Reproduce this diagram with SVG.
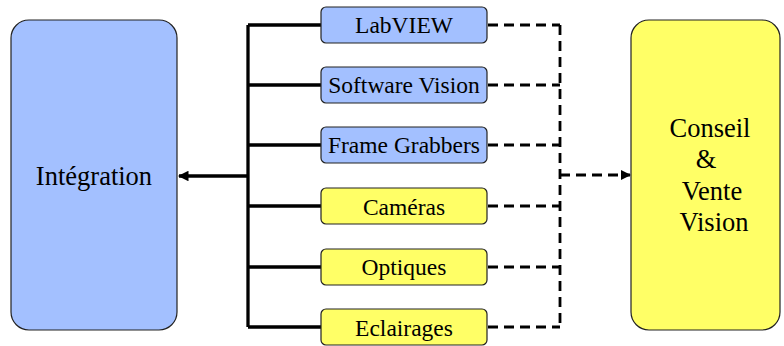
<svg xmlns="http://www.w3.org/2000/svg" width="784" height="346" viewBox="0 0 784 346">
<defs>
<style>
.blue{fill:#A3C0FF;stroke:#222;stroke-width:1.2}
.yellow{fill:#FFFF66;stroke:#222;stroke-width:1.2}
text{font-family:"Liberation Serif","Times New Roman",serif;fill:#000;text-anchor:middle}
.solid{fill:none;stroke:#000;stroke-width:3.3}
.dash{fill:none;stroke:#000;stroke-width:2.8;stroke-dasharray:10 6}
</style>
<marker id="ah" viewBox="0 0 10 10" refX="9" refY="5" markerWidth="3.6" markerHeight="3.2" orient="auto" markerUnits="strokeWidth">
<path d="M0,0 L10,5 L0,10 Z" fill="#000"/>
</marker>
<marker id="ah2" viewBox="0 0 10 10" refX="9" refY="5" markerWidth="3.6" markerHeight="3.6" orient="auto" markerUnits="strokeWidth">
<path d="M0,0 L10,5 L0,10 Z" fill="#000"/>
</marker>
</defs>
<rect width="784" height="346" fill="#fff"/>
<g id="connectors">
<path class="solid" d="M248,25 V327 M248,25 H321 M248,85 H321 M248,145 H321 M248,206 H321 M248,267 H321 M248,327 H321"/>
<path class="solid" d="M248,176 H179" marker-end="url(#ah)"/>
<path class="dash" d="M488,25 H560 M488,85 H560 M488,145 H560 M488,206 H560 M488,267 H560 M488,327 H560 M560,25 V327"/>
<path class="dash" d="M560,175 H630" marker-end="url(#ah2)"/>
</g>
<g id="integration">
<rect class="blue" x="11" y="20" width="166" height="310" rx="18"/>
<text x="94" y="185" font-size="26.5">Intégration</text>
</g>
<g id="conseil">
<rect class="yellow" x="631" y="20" width="149" height="310" rx="18"/>
<text x="710" y="137" font-size="26.5">Conseil</text>
<text x="706" y="168" font-size="26.5">&amp;</text>
<text x="712" y="200" font-size="26.5">Vente</text>
<text x="714" y="231" font-size="26.5">Vision</text>
</g>
<g id="labview">
<rect class="blue" x="321" y="7" width="166" height="36" rx="5"/>
<text x="404" y="33" font-size="23.5">LabVIEW</text>
</g>
<g id="software">
<rect class="blue" x="321" y="67" width="166" height="36" rx="5"/>
<text x="404" y="93" font-size="23.5">Software Vision</text>
</g>
<g id="frame">
<rect class="blue" x="321" y="127" width="166" height="36" rx="5"/>
<text x="404" y="153" font-size="23.5">Frame Grabbers</text>
</g>
<g id="cameras">
<rect class="yellow" x="321" y="188" width="166" height="36" rx="5"/>
<text x="404" y="215" font-size="23.5">Caméras</text>
</g>
<g id="optiques">
<rect class="yellow" x="321" y="249" width="166" height="36" rx="5"/>
<text x="404" y="275" font-size="23.5">Optiques</text>
</g>
<g id="eclairages">
<rect class="yellow" x="321" y="309" width="166" height="36" rx="5"/>
<text x="404" y="336" font-size="23.5">Eclairages</text>
</g>
</svg>
